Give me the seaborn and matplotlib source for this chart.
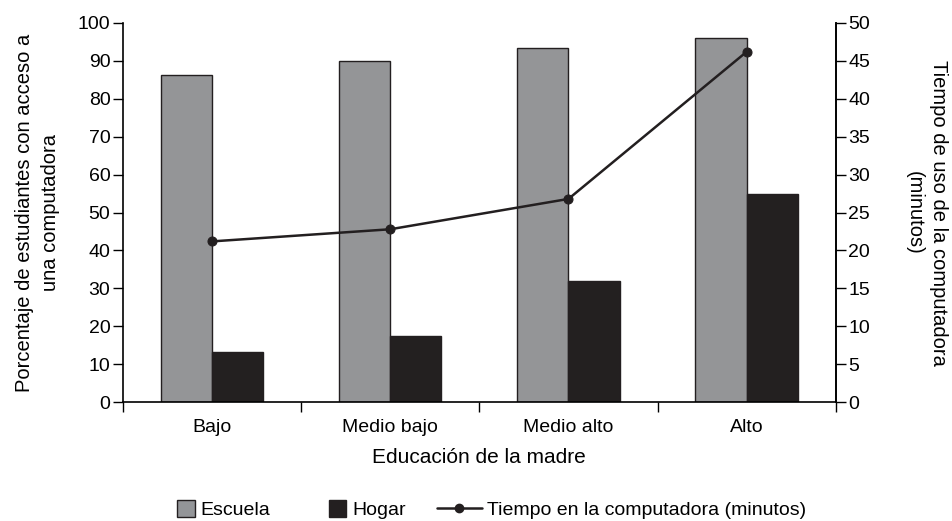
import numpy as np
import pandas as pd
import matplotlib
matplotlib.use("Agg")
import matplotlib.pyplot as plt
import seaborn as sns
from matplotlib.patches import Patch, Rectangle
from matplotlib.lines import Line2D
from matplotlib.legend_handler import HandlerPatch

categorias = ["Bajo", "Medio bajo", "Medio alto", "Alto"]
escuela = [86.2, 90.0, 93.3, 96.0]
hogar = [13.2, 17.5, 32.0, 55.0]
tiempo = [21.2, 22.8, 26.8, 46.2]

sns.set_theme(style="white")
plt.rcParams['font.family'] = ['Liberation Sans', 'DejaVu Sans']
plt.rcParams['text.color'] = 'black'
plt.rcParams['axes.labelcolor'] = 'black'
plt.rcParams['xtick.color'] = 'black'
plt.rcParams['ytick.color'] = 'black'

gris = "#939598"
negro = "#231f20"


class CuadroDerecha(HandlerPatch):
    # cuadrado pegado al texto, como en la leyenda original
    def create_artists(self, legend, orig_handle, xdescent, ydescent, width, height, fontsize, trans):
        s = 0.9 * fontsize
        p = Rectangle((width - s - xdescent, -ydescent + (height - s) / 2), s, s)
        self.update_prop(p, orig_handle, legend)
        p.set_transform(trans)
        return [p]


df = pd.DataFrame({
    "Educación": categorias * 2,
    "Serie": ["Escuela"] * 4 + ["Hogar"] * 4,
    "Valor": escuela + hogar,
})

fig = plt.figure(figsize=(9.53, 5.21), dpi=100)
ax = fig.add_axes([0.129, 0.228, 0.748, 0.728])

sns.barplot(data=df, x="Educación", y="Valor", hue="Serie", order=categorias,
            palette={"Escuela": gris, "Hogar": negro}, width=0.575, gap=0,
            edgecolor=negro, linewidth=1, legend=False, ax=ax)

ax.set_xlim(-0.5, 3.5)
ax.set_ylim(0, 100)
ax.set_yticks(np.arange(0, 101, 10))
ax.set_xticks(range(4))
ax.set_xticklabels(categorias)
ax.set_xticks(np.arange(-0.5, 4, 1), minor=True)
ax.tick_params(axis="x", which="major", length=0, labelsize=14, pad=12)
ax.tick_params(axis="x", which="minor", length=7, width=1, direction="out", bottom=True)
ax.tick_params(axis="y", length=7, width=1, labelsize=14, left=True, pad=2)
ax.set_xlabel("Educación de la madre", fontsize=15, labelpad=9)
ax.set_ylabel("Porcentaje de estudiantes con acceso a\nuna computadora", fontsize=14.5,
              labelpad=13, linespacing=1.45)
for s in ["left", "bottom", "right"]:
    ax.spines[s].set_color("black")
    ax.spines[s].set_linewidth(1.2)
ax.spines["top"].set_visible(False)

ax2 = ax.twinx()
sns.lineplot(x=np.arange(4), y=tiempo, color=negro, marker="o", markersize=6.5,
             markeredgecolor=negro, linewidth=1.8, ax=ax2)
ax2.set_ylim(0, 50)
ax2.set_yticks(np.arange(0, 51, 5))
ax2.tick_params(axis="y", length=7, width=1, labelsize=14, right=True, pad=2)
ax2.set_ylabel("Tiempo de uso de la computadora\n(minutos)", fontsize=14.5, rotation=270,
               labelpad=56, linespacing=1.35)
for s in ["top", "left", "bottom"]:
    ax2.spines[s].set_visible(False)
ax2.spines["right"].set_color("black")
ax2.spines["right"].set_linewidth(1.2)

handles = [
    Patch(facecolor=gris, edgecolor=negro, linewidth=1),
    Patch(facecolor=negro, edgecolor=negro),
    Line2D([0], [0], color=negro, marker="o", markersize=6, linewidth=1.8),
]
fig.legend(handles, ["Escuela", "Hogar", "Tiempo en la computadora (minutos)"],
           loc="lower center", bbox_to_anchor=(0.502, -0.03), ncol=3, frameon=False,
           fontsize=14, handlelength=2.3, handletextpad=0.3, columnspacing=1.6,
           handler_map={Patch: CuadroDerecha()})

fig.savefig("out.png", dpi=100)
